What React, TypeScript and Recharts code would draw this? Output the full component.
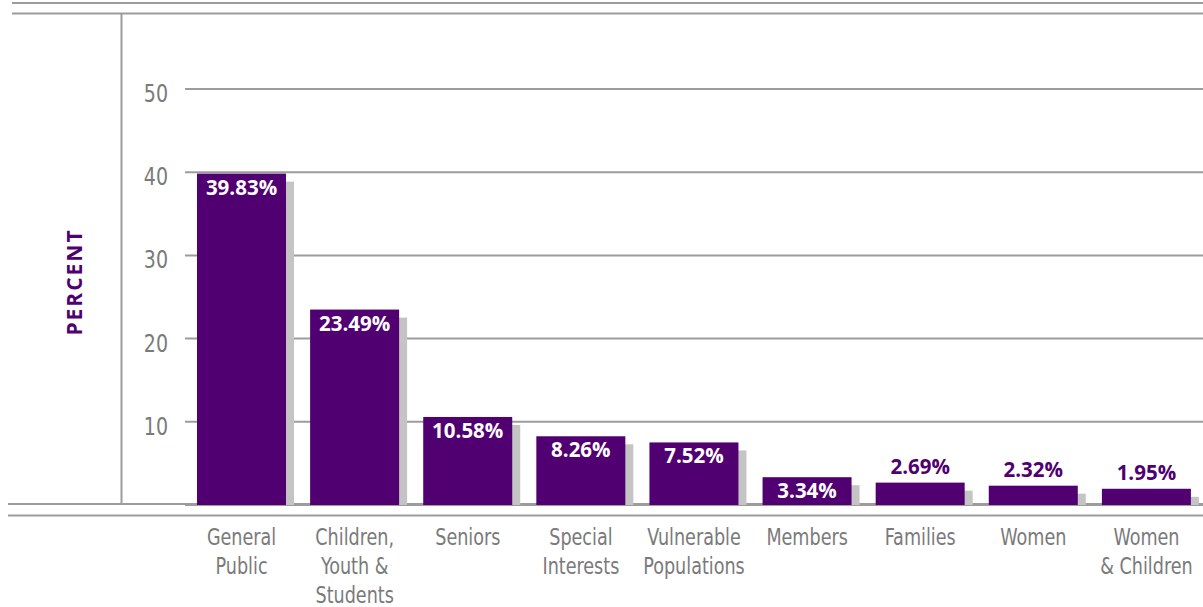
import React from "react";
import { BarChart, Bar, XAxis, YAxis, CartesianGrid, LabelList } from "recharts";

const categories = [
  "General\nPublic",
  "Children,\nYouth &\nStudents",
  "Seniors",
  "Special\nInterests",
  "Vulnerable\nPopulations",
  "Members",
  "Families",
  "Women",
  "Women\n& Children",
];
const percents = [39.83, 23.49, 10.58, 8.26, 7.52, 3.34, 2.69, 2.32, 1.95];
const yTicks = [10, 20, 30, 40, 50];

const data = categories.map((c, i) => ({ name: c, value: percents[i] }));

const PURPLE = "#500070";
const GRAY = "#9c9c9c";
const TEXT_GRAY = "#7a7a7a";
const NARROW = "'Liberation Sans Narrow', 'DejaVu Sans Condensed', sans-serif";
const BOLD = "'Open Sans', sans-serif";

const ShadowBar = (props: any) => {
  const { x, y, width, height } = props;
  if (height == null || height <= 0) return null;
  return (
    <g>
      <rect x={x + 8} y={y + 8} width={width} height={Math.max(0, height - 8)} fill="#c4c4c4" />
      <rect x={x} y={y} width={width} height={height} fill={PURPLE} />
    </g>
  );
};

const ValueLabel = (props: any) => {
  const { x, y, width, value } = props;
  const inside = value > 3;
  return (
    <text
      x={x + width / 2}
      y={inside ? y + 21 : y - 9}
      textAnchor="middle"
      fill={inside ? "#ffffff" : PURPLE}
      fontFamily={BOLD}
      fontWeight={700}
      fontSize={20.5}
    >
      {value.toFixed(2)}%
    </text>
  );
};

const CatTick = (props: any) => {
  const { x, y, payload } = props;
  const lines = String(payload.value).split("\n");
  return (
    <g transform={`translate(${x},${y}) scale(0.85,1)`}>
      {lines.map((l, i) => (
        <text
          key={i}
          x={0}
          y={32 + i * 29}
          textAnchor="middle"
          fill={TEXT_GRAY}
          fontFamily={NARROW}
          fontSize={23}
        >
          {l}
        </text>
      ))}
    </g>
  );
};

const NumTick = (props: any) => {
  const { x, y, payload } = props;
  return (
    <g transform={`translate(${x},${y}) scale(0.88,1)`}>
      <text x={0} y={13} textAnchor="end" fill={TEXT_GRAY} fontFamily={NARROW} fontSize={24}>
        {payload.value}
      </text>
    </g>
  );
};

export default function App() {
  return (
    <div style={{ position: "absolute", left: 0, top: 0, width: 1203, height: 607, background: "#fff" }}>
      <svg width={1203} height={607} style={{ position: "absolute", left: 0, top: 0 }}>
        <line x1={12} x2={1203} y1={3} y2={3} stroke={GRAY} strokeWidth={2} />
        <line x1={12} x2={1203} y1={13.5} y2={13.5} stroke={GRAY} strokeWidth={2} />
        <line x1={121.5} x2={121.5} y1={13} y2={504} stroke={GRAY} strokeWidth={2} />
        <line x1={8} x2={1203} y1={504} y2={504} stroke={GRAY} strokeWidth={2} />
        <line x1={8} x2={1203} y1={515.5} y2={515.5} stroke={GRAY} strokeWidth={2} />
        <text
          transform="translate(82,282) rotate(-90)"
          textAnchor="middle"
          fill={PURPLE}
          fontFamily={BOLD}
          fontWeight={700}
          fontSize={21}
          letterSpacing={2}
        >
          PERCENT
        </text>
      </svg>
      <div style={{ position: "absolute", left: 0, top: 0 }}>
        <BarChart
          width={1203}
          height={607}
          data={data}
          margin={{ top: 89, right: 0, bottom: 0, left: 0 }}
        >
          <CartesianGrid horizontal vertical={false} stroke={GRAY} strokeWidth={2} />
          <XAxis
            dataKey="name"
            height={102}
            axisLine={false}
            tickLine={false}
            interval={0}
            tick={<CatTick />}
          />
          <YAxis
            width={185}
            domain={[0, 50]}
            ticks={yTicks}
            axisLine={false}
            tickLine={false}
            tickSize={0}
            tickMargin={17}
            tick={<NumTick />}
          />
          <Bar dataKey="value" barSize={89} shape={<ShadowBar />} isAnimationActive={false}>
            <LabelList dataKey="value" content={<ValueLabel />} />
          </Bar>
        </BarChart>
      </div>
    </div>
  );
}
